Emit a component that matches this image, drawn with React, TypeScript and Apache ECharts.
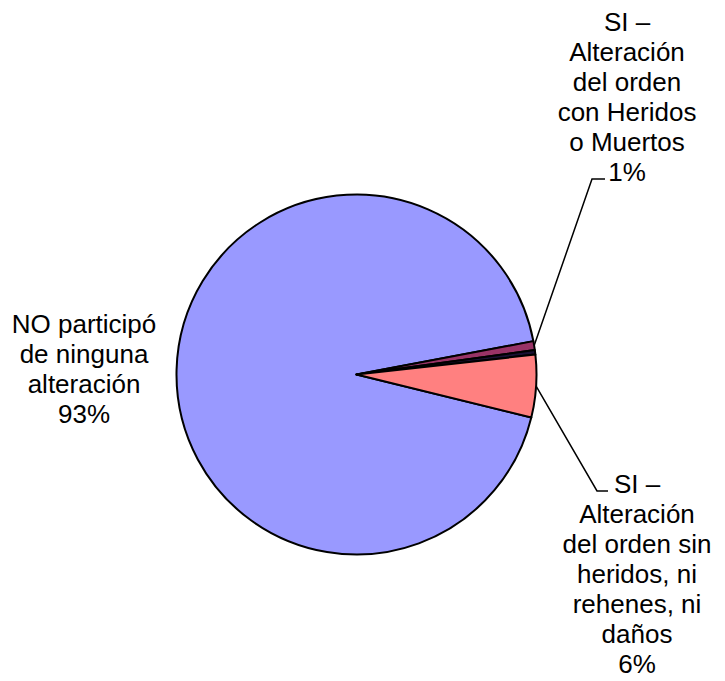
import React, { useEffect, useRef } from "react";
import * as echarts from "echarts";

const categories: string[] = [
  "NO participó\nde ninguna\nalteración",
  "SI –\nAlteración\ndel orden\ncon Heridos\no Muertos",
  "SI –\nAlteración del orden con rehenes",
  "SI –\nAlteración\ndel orden sin\nheridos, ni\nrehenes, ni\ndaños",
];
const values: number[] = [93.2, 0.8, 0.4, 5.6];
const colors: string[] = ["#9999FF", "#993366", "#1a1033", "#FF8080"];
const showLabel: boolean[] = [true, true, false, true];

export default function App() {
  const ref = useRef<HTMLDivElement>(null);
  useEffect(() => {
    if (!ref.current) return;
    const chart = echarts.init(ref.current, undefined, { renderer: "svg" });
    const cx = 356.5;
    const cy = 374.5;
    // label block centres (layout only)
    const labelPos: Record<number, { x: number; y: number; lineEnd?: [number, number]; bend?: [number, number] }> = {
      0: { x: 84, y: 369 },
      1: { x: 627, y: 97, bend: [592, 179], lineEnd: [605, 179] },
      3: { x: 637, y: 574, bend: [597, 491], lineEnd: [608, 491] },
    };
    chart.setOption({
      animation: false,
      backgroundColor: "#ffffff",
      series: [
        {
          type: "pie",
          center: [cx, cy],
          radius: 180,
          startAngle: -13.8,
          clockwise: true,
          percentPrecision: 0,
          avoidLabelOverlap: false,
          itemStyle: { borderColor: "#000000", borderWidth: 2 },
          label: {
            show: true,
            position: "outside",
            formatter: "{b}\n{d}%",
            fontFamily: "'Liberation Sans', Arial, sans-serif",
            fontSize: 26,
            lineHeight: 30,
            color: "#000000",
            align: "center",
          },
          labelLine: {
            show: true,
            length: 10,
            length2: 10,
            lineStyle: { color: "#000000", width: 1.5 },
          },
          emphasis: { disabled: true },
          labelLayout: (params: any) => {
            const p = labelPos[params.dataIndex];
            if (!p) return {};
            const res: any = { x: p.x, y: p.y, align: "center", verticalAlign: "middle" };
            if (p.bend && p.lineEnd && params.labelLinePoints) {
              res.labelLinePoints = [params.labelLinePoints[0], p.bend, p.lineEnd];
            }
            return res;
          },
          data: categories.map((name, i) => ({
            name,
            value: values[i],
            itemStyle: { color: colors[i] },
            label: { show: showLabel[i] },
            labelLine: { show: showLabel[i] && i !== 0 },
          })),
        },
      ],
    });
    return () => chart.dispose();
  }, []);
  return (
    <div
      ref={ref}
      style={{ position: "absolute", left: 0, top: 0, width: 725, height: 681 }}
    />
  );
}
